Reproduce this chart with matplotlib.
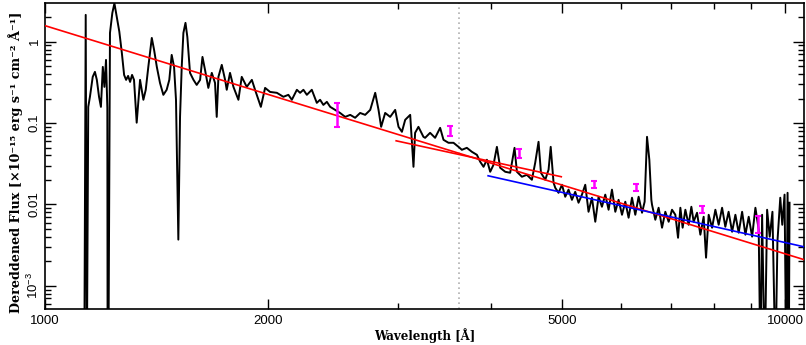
import matplotlib
matplotlib.use("Agg")
import matplotlib.pyplot as plt
from matplotlib.ticker import FixedLocator, FixedFormatter, NullFormatter
import numpy as np

plt.rcParams["mathtext.fontset"] = "custom"
plt.rcParams["mathtext.rm"] = "Liberation Sans"
plt.rcParams["mathtext.it"] = "Liberation Sans:italic"
plt.rcParams["mathtext.bf"] = "Liberation Sans:bold"

# ---- spectrum (wavelength in Angstrom, dereddened flux in 1e-15 erg/s/cm2/A)
wave = [1130, 1135, 1139, 1144, 1150, 1160, 1168, 1175, 1183, 1190, 1197, 1203, 1209, 1214, 1215,
        1218, 1224, 1233, 1241, 1252, 1260, 1270, 1279, 1287, 1295, 1303, 1311, 1319, 1330, 1344,
        1358, 1368, 1379, 1394, 1404, 1416, 1430, 1445, 1460, 1472, 1483, 1494, 1503, 1514, 1522,
        1530, 1538, 1548, 1557, 1570, 1587, 1603, 1620, 1632, 1645, 1662, 1680, 1697, 1706, 1715,
        1733, 1751, 1760, 1778, 1797, 1825, 1844, 1873, 1903, 1922, 1957, 1983, 2014, 2057, 2099,
        2132, 2155, 2189, 2211, 2234, 2258, 2293, 2329, 2353, 2377, 2403, 2428, 2466, 2504, 2544,
        2584, 2624, 2665, 2707, 2750, 2793, 2822, 2845, 2881, 2926, 2972, 3003, 3035, 3066, 3114,
        3146, 3162, 3195, 3245, 3262, 3313, 3365, 3418, 3454, 3508, 3563, 3619, 3657, 3714, 3773,
        3832, 3872, 3912, 3953, 3994, 4035, 4078, 4120, 4185, 4250, 4308, 4340, 4408, 4477, 4547,
        4594, 4642, 4677, 4740, 4789, 4821, 4864,
        4890, 4940, 4993, 5044, 5096, 5150, 5203, 5257, 5313, 5368, 5423, 5481, 5538, 5595, 5654,
        5713, 5772, 5833, 5894, 5954, 6018, 6080, 6143, 6208, 6272, 6337, 6405, 6457, 6505, 6552,
        6593, 6607, 6675, 6744, 6816, 6886, 6958, 7031,
        7104, 7164, 7216, 7267, 7329, 7404, 7467, 7520, 7600, 7679, 7758, 7816, 7880, 7964, 8046,
        8129, 8216, 8299, 8384, 8476, 8563, 8651, 8744, 8834, 8925, 9020, 9113, 9207, 9256, 9305,
        9381, 9451, 9528, 9609, 9699, 9759, 9846, 9907, 9978, 10031, 10072, 10110, 10134]
flux = [1e-4, 2.13, 1e-4, 0.158, 0.210, 0.369, 0.425, 0.339, 0.210, 0.158, 0.489, 0.278, 0.596, 0.154, 1e-4,
        1e-4, 1.28, 2.25, 2.95, 1.85, 1.33, 0.727, 0.390, 0.339, 0.379, 0.320, 0.390, 0.339, 0.101, 0.339,
        0.193, 0.256, 0.489, 1.11, 0.791, 0.489, 0.311, 0.222, 0.256, 0.339, 0.687, 0.489, 0.193, 0.0037, 0.119,
        0.489, 1.28, 1.70, 1.14, 0.413, 0.339, 0.294, 0.339, 0.649, 0.450, 0.270, 0.413, 0.311, 0.119, 0.369,
        0.518, 0.339, 0.256, 0.413, 0.278, 0.193, 0.369, 0.278, 0.339, 0.256, 0.158, 0.270, 0.241, 0.235, 0.210,
        0.222, 0.193, 0.256, 0.235, 0.256, 0.222, 0.256, 0.177, 0.193, 0.167, 0.182, 0.158, 0.145, 0.133, 0.119,
        0.126, 0.116, 0.133, 0.126, 0.145, 0.235, 0.145, 0.0898, 0.133, 0.119, 0.145, 0.0898, 0.0780, 0.1095, 0.126,
        0.0290, 0.0758, 0.0898, 0.0677, 0.0658, 0.0758, 0.0658, 0.0873, 0.0622, 0.0572, 0.0572, 0.0510, 0.0469, 0.0496, 0.0443,
        0.0407, 0.0334, 0.0290, 0.0354, 0.0252, 0.0307, 0.0510, 0.0282, 0.0252, 0.0245, 0.0496, 0.0252, 0.0219, 0.0231, 0.0201,
        0.0325, 0.0588, 0.0245, 0.0201, 0.0267, 0.0510, 0.0185,
        0.0160, 0.0139, 0.01745, 0.01243, 0.0152, 0.0114, 0.0143, 0.0105, 0.0132, 0.01745, 0.00813, 0.0121, 0.00613, 0.01243, 0.00937,
        0.0132, 0.00861, 0.0152, 0.00813, 0.0114, 0.00747, 0.0108, 0.00687, 0.0121, 0.00747, 0.01243, 0.00791, 0.0108, 0.0677, 0.0354,
        0.0114, 0.00992, 0.00649, 0.00911, 0.00518, 0.00813, 0.00613, 0.00861,
        0.00747, 0.00390, 0.00911, 0.00518, 0.00861, 0.00563, 0.00937, 0.00613, 0.00791, 0.00425, 0.00706, 0.00222, 0.00747, 0.00518, 0.00861,
        0.00563, 0.00911, 0.00532, 0.00813, 0.00462, 0.00747, 0.00450, 0.00813, 0.00425, 0.00706, 0.00402, 0.00911, 0.00489, 1e-4, 0.00747,
        1e-4, 0.00861, 0.00402, 0.00813, 1e-4, 0.00349, 0.0121, 0.00563, 0.0132, 1e-4, 0.0139, 1e-4, 0.0105]

# ---- power-law fits (endpoints)
red1_wave = [1000, 10600]
red1_flux = [1.57, 0.0021]
red2_wave = [2981, 4982]
red2_flux = [0.0605, 0.0219]
blue_wave = [3968, 10600]
blue_flux = [0.0225, 0.00302]

# ---- photometric error bars
phot_wave = [2481, 3526, 4371, 5520, 6290, 7724, 9193]
phot_lo = [0.0898, 0.0697, 0.0374, 0.0160, 0.0147, 0.0079, 0.0045]
phot_hi = [0.177, 0.0928, 0.0483, 0.0195, 0.0180, 0.00964, 0.00726]

balmer_limit = 3630

xticks_major = [1000, 2000, 5000, 10000]
xtick_labels = ["1000", "2000", "5000", "10000"]
yticks_major = [1e-3, 1e-2, 1e-1, 1]
ytick_labels = ["$10^{-3}$", "0.01", "0.1", "1"]

fig = plt.figure(figsize=(8.06, 3.45), dpi=100)
ax = fig.add_axes([45/806, 1-309/345, (804-45)/806, (309-3)/345])
ax.set_xscale("log")
ax.set_yscale("log")
ax.set_xlim(1000, 10600)
ax.set_ylim(5.2e-4, 2.98)

ax.axvline(balmer_limit, color="#b0b0b0", ls=(0, (1, 2)), lw=1.2, zorder=1)
ax.plot(wave, flux, color="black", lw=1.4, zorder=3)
ax.plot(red1_wave, red1_flux, color="#ff0000", lw=1.2, zorder=4)
ax.plot(red2_wave, red2_flux, color="#ff0000", lw=1.2, zorder=4)
ax.plot(blue_wave, blue_flux, color="#0000ff", lw=1.2, zorder=4)

lo = np.array(phot_lo); hi = np.array(phot_hi)
mid = np.sqrt(lo * hi)
ax.errorbar(phot_wave, mid, yerr=[mid - lo, hi - mid], fmt="none", ecolor="#ff00ff",
            elinewidth=1.8, capsize=2.2, capthick=1.5, zorder=5)

# ticks
ax.xaxis.set_major_locator(FixedLocator(xticks_major))
ax.xaxis.set_major_formatter(FixedFormatter(xtick_labels))
ax.xaxis.set_minor_locator(FixedLocator([3000, 4000, 6000, 7000, 8000, 9000]))
ax.xaxis.set_minor_formatter(NullFormatter())
ax.yaxis.set_major_locator(FixedLocator(yticks_major))
ax.yaxis.set_major_formatter(FixedFormatter(ytick_labels))
yminor = [m * 10.0**e for e in range(-4, 1) for m in range(2, 10)]
ax.yaxis.set_minor_locator(FixedLocator(yminor))
ax.yaxis.set_minor_formatter(NullFormatter())
ax.tick_params(which="both", direction="in", top=True, right=True, width=1.0)
ax.tick_params(axis="x", which="major", length=7, labelsize=9.5, pad=4)
ax.tick_params(axis="x", which="minor", length=4)
ax.tick_params(axis="y", which="major", length=8, labelsize=9.5, pad=3)
ax.tick_params(axis="y", which="minor", length=4)
for lab in ax.get_xticklabels():
    lab.set_fontfamily("Liberation Sans")
for lab in ax.get_yticklabels():
    lab.set_fontfamily("Liberation Sans")
    lab.set_rotation(90)
    lab.set_va("center")
for sp in ax.spines.values():
    sp.set_linewidth(1.2)

ax.set_xlabel("Wavelength [Å]", labelpad=1, family="DejaVu Serif", weight="bold", size=8.5)
ax.set_ylabel("Dereddened Flux [×10⁻¹⁵ erg s⁻¹ cm⁻² Å⁻¹]", labelpad=2,
              family="DejaVu Serif", weight="bold", size=9.2)
ax.yaxis.label.set_y(0.48)

fig.savefig("out.png", dpi=100)
